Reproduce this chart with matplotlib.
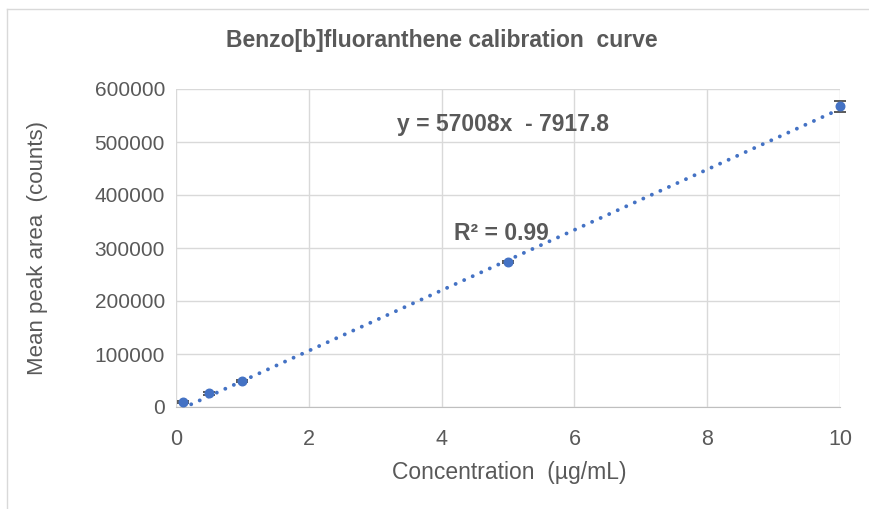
import matplotlib
matplotlib.use("Agg")
import matplotlib.pyplot as plt
from matplotlib.lines import Line2D
import numpy as np

plt.rcParams['font.family'] = ['Liberation Sans', 'DejaVu Sans']

conc = [0.1, 0.5, 1.0, 5.0, 10.0]
area = [9000, 26000, 49000, 273500, 567000]
area_err = [1500, 2500, 2500, 2000, 11000]
slope = 57008
intercept = -7917.8
x_ticks = [0, 2, 4, 6, 8, 10]
y_ticks = [0, 100000, 200000, 300000, 400000, 500000, 600000]

blue = '#4472C4'
grey_text = '#595959'
grid_c = '#D9D9D9'

fig = plt.figure(figsize=(8.7, 5.09), dpi=100)
ax = fig.add_axes([176/870, 1-407/509, (840-176)/870, (407-89)/509])

eb = ax.errorbar(conc, area, yerr=area_err, fmt='none', ecolor='#595959', elinewidth=1.4,
                 capsize=4, capthick=1.4, zorder=3)
for art in eb.lines[1] + eb.lines[2]:
    art.set_clip_on(False)
sc = ax.scatter(conc, area, s=38, color=blue, zorder=4, clip_on=False)

xt = np.array([min(conc), max(conc)])
ax.plot(xt, slope*xt + intercept, linestyle=(0, (0.01, 2.4)), color=blue, linewidth=2.8,
        dash_capstyle='round', zorder=2)

ax.set_xlim(0, 10)
ax.set_ylim(0, 600000)
ax.set_xticks(x_ticks)
ax.set_yticks(y_ticks)
ax.set_xticklabels([str(v) for v in x_ticks])
ax.set_yticklabels([str(v) for v in y_ticks])
ax.grid(True, color=grid_c, linewidth=1)
ax.set_axisbelow(True)
for s in ['top', 'right', 'left']:
    ax.spines[s].set_visible(False)
ax.spines['bottom'].set_color('#BFBFBF')
ax.tick_params(axis='y', length=0, labelsize=15, colors=grey_text, pad=8)
ax.tick_params(axis='x', length=0, labelsize=15.5, colors=grey_text, pad=16)

fig.text(509/870, 1-473/509, 'Concentration  (µg/mL)', ha='center', va='center',
         fontsize=16.5, color=grey_text)
fig.text(38/870, 1-248/509, 'Mean peak area  (counts)', ha='center', va='center',
         rotation=90, fontsize=16, color=grey_text)

fig.text(442/870, 1-40/509, 'Benzo[b]fluoranthene calibration  curve', ha='center', va='center',
         fontsize=16.5, fontweight='bold', color=grey_text)
fig.text(503/870, 1-125/509, 'y = 57008x  - 7917.8', ha='center', va='center',
         fontsize=16.5, fontweight='bold', color=grey_text)
fig.text(501/870, 1-234/509, 'R² = 0.99', ha='center', va='center',
         fontsize=16.5, fontweight='bold', color=grey_text)

fig.add_artist(Line2D([7/870, 7/870], [0, 1-9/509], transform=fig.transFigure, color=grid_c, lw=1))
fig.add_artist(Line2D([7/870, 1], [1-9/509, 1-9/509], transform=fig.transFigure, color=grid_c, lw=1))

fig.savefig('out.png', dpi=100, facecolor='white')
